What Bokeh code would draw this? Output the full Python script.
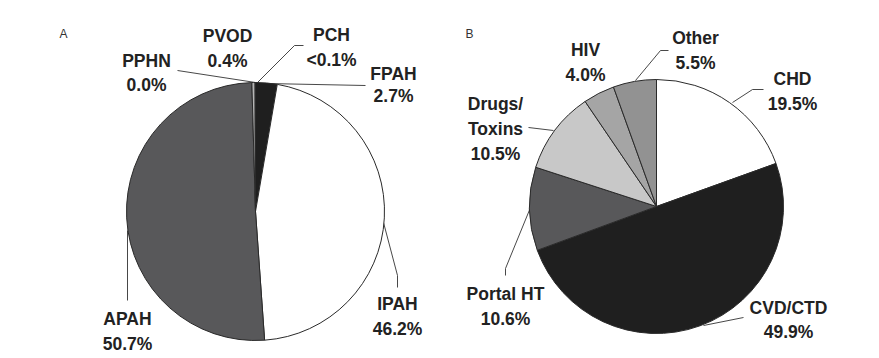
import math
from bokeh.plotting import figure
from bokeh.models import Range1d, ColumnDataSource
from bokeh.core.properties import value
from bokeh.embed import file_html
from bokeh.resources import INLINE

# ---------------- data ----------------
# Panel A (clockwise from 12 o'clock)
cats_a = ["FPAH", "IPAH", "APAH", "PPHN", "PVOD", "PCH"]
vals_a = [2.7, 46.2, 50.7, 0.0, 0.4, 0.05]
pct_a = ["2.7%", "46.2%", "50.7%", "0.0%", "0.4%", "<0.1%"]

# Panel B (clockwise from 12 o'clock)
cats_b = ["CHD", "CVD/CTD", "Portal HT", "Drugs/\nToxins", "HIV", "Other"]
vals_b = [19.5, 49.9, 10.6, 10.5, 4.0, 5.5]
pct_b = ["19.5%", "49.9%", "10.6%", "10.5%", "4.0%", "5.5%"]

# ---------------- styles / layout ----------------
cols_a = ["#1f1f1f", "#ffffff", "#58585a", "#ffffff", "#b5b5b5", "#1f1f1f"]
cols_b = ["#ffffff", "#1f1f1f", "#58585a", "#c8c8c8", "#a5a5a5", "#929292"]

W, H = 879, 358  # data x = pixel x, data y = H - pixel y

def Y(py):
    return H - py

centre_a = (255, 211); rad_a = 129
centre_b = (656, 206); rad_b = 127

# label anchors (first-line centre, pixel coords) and line spacing
lab_a = {"FPAH": (393, 73, 22), "IPAH": (397, 303, 25), "APAH": (127, 318, 25),
         "PPHN": (146, 60, 24), "PVOD": (227, 35, 25), "PCH": (331, 34, 25)}
lab_b = {"CHD": (792, 78, 25), "CVD/CTD": (788, 307, 24), "Portal HT": (505, 293, 25),
         "Drugs/\nToxins": (495, 103, 25), "HIV": (585, 49, 25), "Other": (695, 37, 25)}

lead_a = [[(177, 70), (255, 82)],
          [(303, 45), (294, 45), (257, 82)],
          [(365, 85), (266, 83)],
          [(383, 222), (397, 275), (397, 287)],
          [(127, 230), (127, 300)]]
lead_b = [[(635, 80), (660, 50), (668, 50)],
          [(732, 102), (752, 89), (763, 89)],
          [(528, 127), (553, 130)],
          [(505, 275), (505, 268), (530, 207)],
          [(703, 325), (743, 317)]]

TXT = "#222222"
FS = "17.5px"

p = figure(width=W, height=H, output_backend="svg", toolbar_location=None,
           x_range=Range1d(0, W), y_range=Range1d(0, H),
           min_border=0, min_border_left=0, min_border_right=0,
           min_border_top=0, min_border_bottom=0)
p.axis.visible = False
p.grid.visible = False
p.outline_line_color = None
p.background_fill_color = "white"
p.border_fill_color = "white"


def pie(vals, cols, centre, rad):
    tot = sum(vals)
    xs, ys, s, e, c = [], [], [], [], []
    cum = 0.0
    for v, col in zip(vals, cols):
        a0 = cum / tot
        cum += v
        a1 = cum / tot
        if v <= 0:
            continue
        xs.append(centre[0]); ys.append(Y(centre[1]))
        s.append(math.pi / 2 - 2 * math.pi * a1)
        e.append(math.pi / 2 - 2 * math.pi * a0)
        c.append(col)
    src = ColumnDataSource(dict(x=xs, y=ys, s=s, e=e, c=c))
    p.wedge(x="x", y="y", radius=rad, radius_units="data", start_angle="s",
            end_angle="e", fill_color="c", line_color="#2a2a2a", line_width=1,
            source=src)


def labels(cats, pcts, anchors):
    xs, ys, ts = [], [], []
    for cname, pc in zip(cats, pcts):
        ax, ay, sp = anchors[cname]
        lines = cname.split("\n") + [pc]
        for i, ln in enumerate(lines):
            xs.append(ax); ys.append(Y(ay + i * sp)); ts.append(ln)
    src = ColumnDataSource(dict(x=xs, y=ys, t=ts))
    p.text(x="x", y="y", text="t", source=src, text_font=value("Liberation Sans"),
           text_font_style="bold", text_font_size=value(FS), text_color=TXT,
           text_align="center", text_baseline="middle")


def leaders(segs):
    xs = [[pt[0] for pt in sg] for sg in segs]
    ys = [[Y(pt[1]) for pt in sg] for sg in segs]
    p.multi_line(xs=xs, ys=ys, line_color="#333333", line_width=0.9)


leaders(lead_a)
leaders(lead_b)
pie(vals_a, cols_a, centre_a, rad_a)
pie(vals_b, cols_b, centre_b, rad_b)
labels(cats_a, pct_a, lab_a)
labels(cats_b, pct_b, lab_b)

p.text(x=[63, 469], y=[Y(33), Y(33)], text=["A", "B"], text_font=value("Liberation Sans"),
       text_font_size=value("12px"), text_color="#333333", text_align="center",
       text_baseline="middle")

open("out.html", "w").write(file_html(p, INLINE))
